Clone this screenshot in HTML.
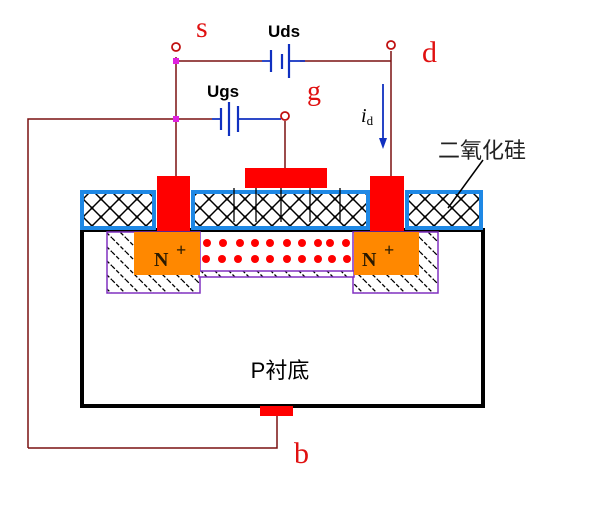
<!DOCTYPE html>
<html><head><meta charset="utf-8"><style>body{margin:0;background:#fff}svg{display:block}</style></head><body>
<svg width="603" height="507" viewBox="0 0 603 507" xmlns="http://www.w3.org/2000/svg">
<defs>
<pattern id="ox" x="2" y="1" width="18" height="18" patternUnits="userSpaceOnUse">
<rect width="18" height="18" fill="#fff"/>
<path d="M0 9L9 0L18 9L9 18Z" fill="none" stroke="#000" stroke-width="1.5"/>
<rect x="7.5" y="-1.5" width="3" height="3" fill="#000"/><rect x="-1.5" y="7.5" width="3" height="3" fill="#000"/><rect x="16.5" y="7.5" width="3" height="3" fill="#000"/><rect x="7.5" y="16.5" width="3" height="3" fill="#000"/>
</pattern>
<pattern id="hat" width="14" height="14" patternUnits="userSpaceOnUse">
<rect width="14" height="14" fill="#fff"/>
<path d="M0 0L14 14M-7 7L7 21M7 -7L21 7" stroke="#000" stroke-width="1.3" stroke-dasharray="4 2"/>
</pattern>
</defs>
<g stroke="#7a1010" stroke-width="1.5" fill="none">
<path d="M176 57V176"/>
<path d="M176 61H262M300 61H391"/>
<path d="M391 51V176"/>
<path d="M28 448V119H212"/>
<path d="M28 448H277V416"/>
<path d="M285 121V168"/>
</g>
<g stroke="#1030c0" stroke-width="1.8" fill="none">
<path d="M262 61H271M289 61H305"/>
<path d="M271 50V72M282 54V69M289 44V78" stroke-width="2.2"/>
<path d="M212 119H221M238 119H281"/>
<path d="M221 108V130M229 102V136M238 106V132" stroke-width="2.2"/>
<path d="M383 84V142"/>
</g>
<path d="M379 138L383 149L387 138Z" fill="#1030c0"/>
<g fill="#fff" stroke="#c01010" stroke-width="1.8">
<circle cx="176" cy="47" r="4"/><circle cx="391" cy="45" r="4"/><circle cx="285" cy="116" r="4"/>
</g>
<rect x="173" y="58" width="6" height="6" fill="#e020e0"/><rect x="173" y="116" width="6" height="6" fill="#e020e0"/>
<rect x="82" y="230" width="401" height="176" fill="#fff" stroke="#000" stroke-width="4"/>
<g fill="url(#ox)" stroke="#1e88e5" stroke-width="4">
<rect x="82" y="192" width="72" height="36"/>
<rect x="193" y="192" width="175" height="36"/>
<rect x="407" y="192" width="74" height="36"/>
</g>
<g stroke="#000" stroke-width="1.3">
<path d="M234 188V222M256 188V222M281 188V222M310 188V222M340 188V222"/>
</g>
<path d="M483 160L448 208" stroke="#000" stroke-width="1.5"/>
<g fill="#f00">
<rect x="157" y="176" width="33" height="55"/>
<rect x="370" y="176" width="34" height="55"/>
<rect x="245" y="168" width="82" height="20"/>
<rect x="260" y="406" width="33" height="10"/>
</g>
<g fill="url(#hat)" stroke="#8030c0" stroke-width="1.5">
<rect x="107" y="232" width="93" height="61"/>
<rect x="353" y="232" width="85" height="61"/>
<rect x="199" y="271" width="155" height="6"/>
</g>
<g fill="#ff8800">
<rect x="134" y="232" width="66" height="43"/>
<rect x="354" y="232" width="65" height="43"/>
</g>
<g fill="#f00">
<circle cx="207" cy="243" r="4"/><circle cx="223" cy="243" r="4"/><circle cx="240" cy="243" r="4"/><circle cx="255" cy="243" r="4"/><circle cx="270" cy="243" r="4"/><circle cx="287" cy="243" r="4"/><circle cx="302" cy="243" r="4"/><circle cx="318" cy="243" r="4"/><circle cx="330" cy="243" r="4"/><circle cx="346" cy="243" r="4"/>
<circle cx="206" cy="259" r="4"/><circle cx="222" cy="259" r="4"/><circle cx="238" cy="259" r="4"/><circle cx="255" cy="259" r="4"/><circle cx="270" cy="259" r="4"/><circle cx="287" cy="259" r="4"/><circle cx="302" cy="259" r="4"/><circle cx="318" cy="259" r="4"/><circle cx="332" cy="259" r="4"/><circle cx="347" cy="259" r="4"/>
</g>
<g font-family="Liberation Serif, serif" fill="#2a1a00" font-weight="bold">
<text x="154" y="266" font-size="20">N</text><text x="176" y="256" font-size="18">+</text>
<text x="362" y="266" font-size="20">N</text><text x="384" y="256" font-size="18">+</text>
</g>
<g font-family="Liberation Serif, serif" fill="#e01010">
<text x="196" y="37" font-size="30">s</text>
<text x="422" y="62" font-size="30">d</text>
<text x="307" y="100" font-size="28">g</text>
<text x="294" y="463" font-size="30">b</text>
</g>
<g font-family="Liberation Sans, sans-serif" font-weight="bold" fill="#000" font-size="17" text-anchor="middle">
<text x="284" y="37">Uds</text>
<text x="223" y="97">Ugs</text>
</g>
<text x="361" y="122" font-family="Liberation Serif, serif" font-style="italic" font-size="20">i<tspan font-style="normal" font-size="13" dy="3">d</tspan></text>
<text x="438" y="158" font-family="Liberation Sans, 'Noto Sans CJK SC', sans-serif" font-size="22" fill="#222">二氧化硅</text>
<text x="280" y="378" text-anchor="middle" font-family="Liberation Sans, 'Noto Sans CJK SC', sans-serif" font-size="22" fill="#000">P衬底</text>
</svg>
</body></html>
